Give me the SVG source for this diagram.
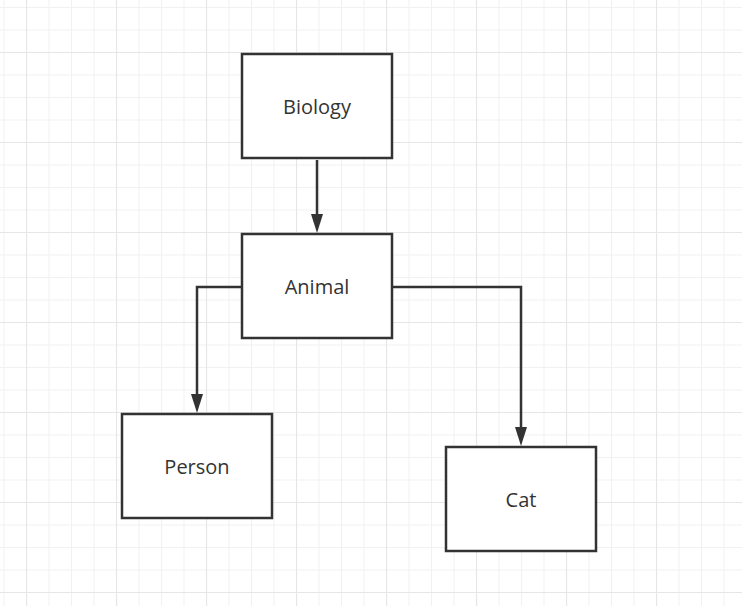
<svg xmlns="http://www.w3.org/2000/svg" width="742" height="606" viewBox="0 0 742 606">
<style>
.node rect{fill:#fff;stroke:#333;stroke-width:2.5}
.node text{font-family:"Open Sans","Noto Sans",sans-serif;font-size:20px;fill:#333;text-anchor:middle}
.conn path{fill:none;stroke:#333;stroke-width:2.5}
</style>
<defs>
<pattern id="minor" patternUnits="userSpaceOnUse" x="3.5" y="7" width="22.5" height="22.5">
<path d="M0.5 0V22.5M0 0.5H22.5" stroke="#f1f1f1" stroke-width="1.2" fill="none"/>
</pattern>
<pattern id="major" patternUnits="userSpaceOnUse" x="26" y="52" width="90" height="90">
<path d="M0.5 0V90M0 0.5H90" stroke="#e6e6e6" stroke-width="1.2" fill="none"/>
</pattern>
<marker id="arrow" markerUnits="userSpaceOnUse" viewBox="0 0 19 12" refX="1" refY="6" markerWidth="19" markerHeight="12" orient="auto">
<path d="M0 0L19 6L0 12Z" fill="#333"/>
</marker>
</defs>
<rect width="742" height="606" fill="#fff"/>
<rect width="742" height="606" fill="url(#minor)"/>
<rect width="742" height="606" fill="url(#major)"/>
<g class="conn" id="connectors">
<path d="M317 160V215" marker-end="url(#arrow)"/>
<path d="M242 287H197V395" marker-end="url(#arrow)"/>
<path d="M392 287H521V428" marker-end="url(#arrow)"/>
</g>
<g class="node" id="biology"><rect x="242" y="54" width="150" height="104"/><text x="317" y="114">Biology</text></g>
<g class="node" id="animal"><rect x="242" y="234" width="150" height="104"/><text x="317" y="294">Animal</text></g>
<g class="node" id="person"><rect x="122" y="414" width="150" height="104"/><text x="197" y="474">Person</text></g>
<g class="node" id="cat"><rect x="446" y="447" width="150" height="104"/><text x="521" y="507">Cat</text></g>
</svg>
